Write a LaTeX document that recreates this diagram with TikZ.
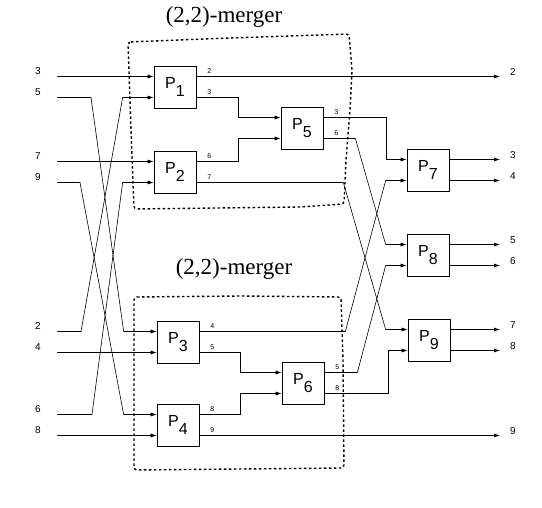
\documentclass[tikz,border=0pt]{standalone}
\usepackage{fontspec}
\setmainfont{Liberation Serif}
\setsansfont{Liberation Sans}
\usetikzlibrary{arrows.meta, positioning, calc}

\newcommand{\proc}[1]{P\raisebox{-0.55em}{#1}}

\begin{document}
\begin{tikzpicture}[
    x=1pt, y=-1pt,
    box/.style={draw, minimum width=42pt, minimum height=42pt, inner sep=0pt,
                line width=0.7pt, font=\sffamily\fontsize{16}{16}\selectfont},
    arr/.style={-{Latex[length=6pt, width=4pt]}, line width=0.6pt},
    io/.style={inner sep=0pt, font=\sffamily\fontsize{10}{10}\selectfont},
    tag/.style={inner sep=0pt, font=\sffamily\fontsize{7}{7}\selectfont},
    merge/.style={line width=1.4pt, dash pattern=on 2.5pt off 2.5pt,
                  rounded corners=3pt},
    mtitle/.style={inner sep=0pt, font=\fontsize{23}{23}\selectfont},
]
    \useasboundingbox (0,0) rectangle (542,508);

    % Titles
    \node[mtitle] (m1) at (224,17) {(2,2)-merger};
    \node[mtitle] (m2) at (234,269) {(2,2)-merger};

    % Merger outlines
    \draw[merge] (128,42) -- (230,38) -- (349,34) -- (352,70) -- (350,110)
        -- (346,160) -- (344,204) -- (300,207) -- (134,209) -- (131,130) -- cycle;
    \draw[merge] (134,297) -- (240,296) -- (341,297) -- (343,360) -- (344,468)
        -- (240,469) -- (134,470) -- cycle;

    % First stage
    \node[box] (P1) at (175,87) {\proc{1}};
    \node[box] (P2) at (175,172) {\proc{2}};
    \node[box] (P3) at (178,342) {\proc{3}};
    \node[box] (P4) at (178,425) {\proc{4}};

    % Second stage
    \node[box] (P5) at (302,128) {\proc{5}};
    \node[box] (P6) at (303,383) {\proc{6}};

    % Third stage
    \node[box] (P7) at (428,170) {\proc{7}};
    \node[box] (P8) at (428,255) {\proc{8}};
    \node[box] (P9) at (429,340) {\proc{9}};

    % Ports
    \foreach \n in {1,...,9} {
        \coordinate (P\n-i1) at ([yshift=10.5pt]P\n.west);
        \coordinate (P\n-i2) at ([yshift=-10.5pt]P\n.west);
        \coordinate (P\n-o1) at ([yshift=10.5pt]P\n.east);
        \coordinate (P\n-o2) at ([yshift=-10.5pt]P\n.east);
    }

    % Inputs
    \foreach \v/\y in {3/76.5, 5/97.5, 7/161.5, 9/182.5,
                       2/331.5, 4/352.5, 6/414.5, 8/435.5} {
        \coordinate (s\v) at (57,\y);
        \node[io] (n\v) at (38,\y-5) {\v};
    }
    \coordinate (e) at (500,0);

    % Input wiring
    \draw[arr] (s3) -- (P1-i1);
    \draw[arr] (s7) -- (P2-i1);
    \draw[arr] (s4) -- (P3-i2);
    \draw[arr] (s8) -- (P4-i2);
    \draw[arr] (s5) -- ++(34,0) -- ([xshift=-33pt]P3-i1) -- (P3-i1);
    \draw[arr] (s9) -- ++(23,0) -- ([xshift=-33pt]P4-i1) -- (P4-i1);
    \draw[arr] (s2) -- ++(24,0) -- ([xshift=-31pt]P1-i2) -- (P1-i2);
    \draw[arr] (s6) -- ++(35,0) -- ([xshift=-31pt]P2-i2) -- (P2-i2);

    % Inner wiring
    \draw[arr] (P1-o2) -- ++(42,0) |- (P5-i1);
    \draw[arr] (P2-o1) -- ++(42,0) |- (P5-i2);
    \draw[arr] (P3-o2) -- ++(41,0) |- (P6-i1);
    \draw[arr] (P4-o1) -- ++(41,0) |- (P6-i2);
    \draw[arr] (P2-o2) -- ++(147,0) -- ([xshift=-22pt]P9-i1) -- (P9-i1);
    \draw[arr] (P3-o1) -- ++(146,0) -- ([xshift=-21pt]P7-i2) -- (P7-i2);
    \draw[arr] (P5-o1) -- ++(63,0) |- (P7-i1);
    \draw[arr] (P5-o2) -- ++(32,0) -- ([xshift=-21pt]P8-i1) -- (P8-i1);
    \draw[arr] (P6-o1) -- ++(33,0) -- ([xshift=-21pt]P8-i2) -- (P8-i2);
    \draw[arr] (P6-o2) -- ++(64,0) |- (P9-i2);

    % Outputs
    \foreach \a/\v in {P1-o1/2, P7-o1/3, P7-o2/4, P8-o1/5,
                       P8-o2/6, P9-o1/7, P9-o2/8, P4-o2/9} {
        \draw[arr] (\a) -- (\a -| e);
        \node[io] (q\v) at ([xshift=13pt, yshift=4.5pt]\a -| e) {\v};
    }

    % Port tags
    \foreach \p/\o/\v in {1/o1/2, 1/o2/3, 2/o1/6, 2/o2/7, 3/o1/4, 3/o2/5,
                          4/o1/8, 4/o2/9, 5/o1/3, 5/o2/6, 6/o1/5, 6/o2/8} {
        \node[tag] (t\p\o) at ([xshift=13pt, yshift=5.5pt]P\p-\o) {\v};
    }
\end{tikzpicture}
\end{document}
